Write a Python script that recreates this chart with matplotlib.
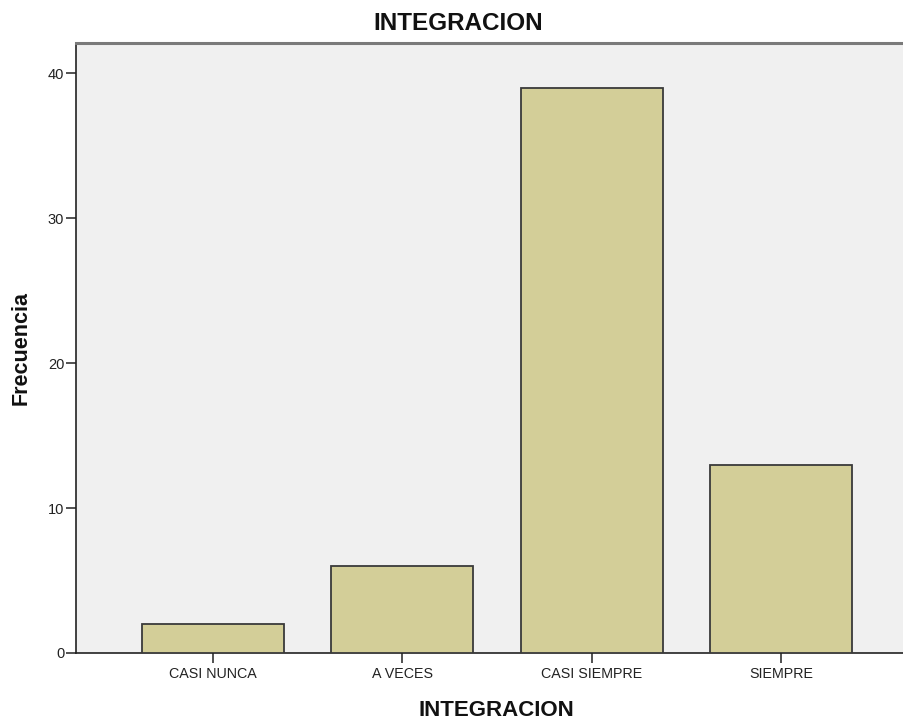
import matplotlib
matplotlib.use("Agg")
import matplotlib.pyplot as plt

categories = ["CASI NUNCA", "A VECES", "CASI SIEMPRE", "SIEMPRE"]
frecuencia = [2, 6, 39, 13]
yticks = [0, 10, 20, 30, 40]

plt.rcParams["font.family"] = ["Liberation Sans", "DejaVu Sans"]

fig = plt.figure(figsize=(9.04, 7.19), dpi=100)
ax = fig.add_axes([76 / 904, 66 / 719, 1 - 76 / 904, (653 - 43) / 719])
ax.set_facecolor("#F0F0F0")

x = list(range(len(categories)))
ax.bar(x, frecuencia, width=0.75, color="#D3CE98", edgecolor="#3A3A3A",
       linewidth=1.3, zorder=3)

ax.set_xlim(-0.724, 3.65)
ax.set_ylim(0, 42.07)
ax.set_xticks(x)
ax.set_xticklabels(categories, fontsize=10.3)
ax.set_yticks(yticks)
ax.set_yticklabels([str(v) for v in yticks], fontsize=10.5)
ax.tick_params(axis="both", direction="out", length=7, width=1.1,
               color="#222222", labelcolor="#222222")
ax.tick_params(axis="y", pad=1.5)
ax.tick_params(axis="x", pad=3)

for side in ("left", "bottom"):
    ax.spines[side].set_color("#222222")
    ax.spines[side].set_linewidth(1.2)
ax.spines["top"].set_color("#7A7A7A")
ax.spines["top"].set_linewidth(2.2)
ax.spines["right"].set_visible(False)

fig.text(458 / 904, 1 - 23 / 719, "INTEGRACION", ha="center", va="center",
         fontsize=17.5, fontweight="bold", color="#111111")
fig.text(496 / 904, 1 - 710 / 719, "INTEGRACION", ha="center", va="center",
         fontsize=16, fontweight="bold", color="#111111")
fig.text(21 / 904, 1 - 348 / 719, "Frecuencia", ha="center", va="center",
         rotation=90, fontsize=15.5, fontweight="bold", color="#111111")

fig.savefig("out.png", dpi=100)
